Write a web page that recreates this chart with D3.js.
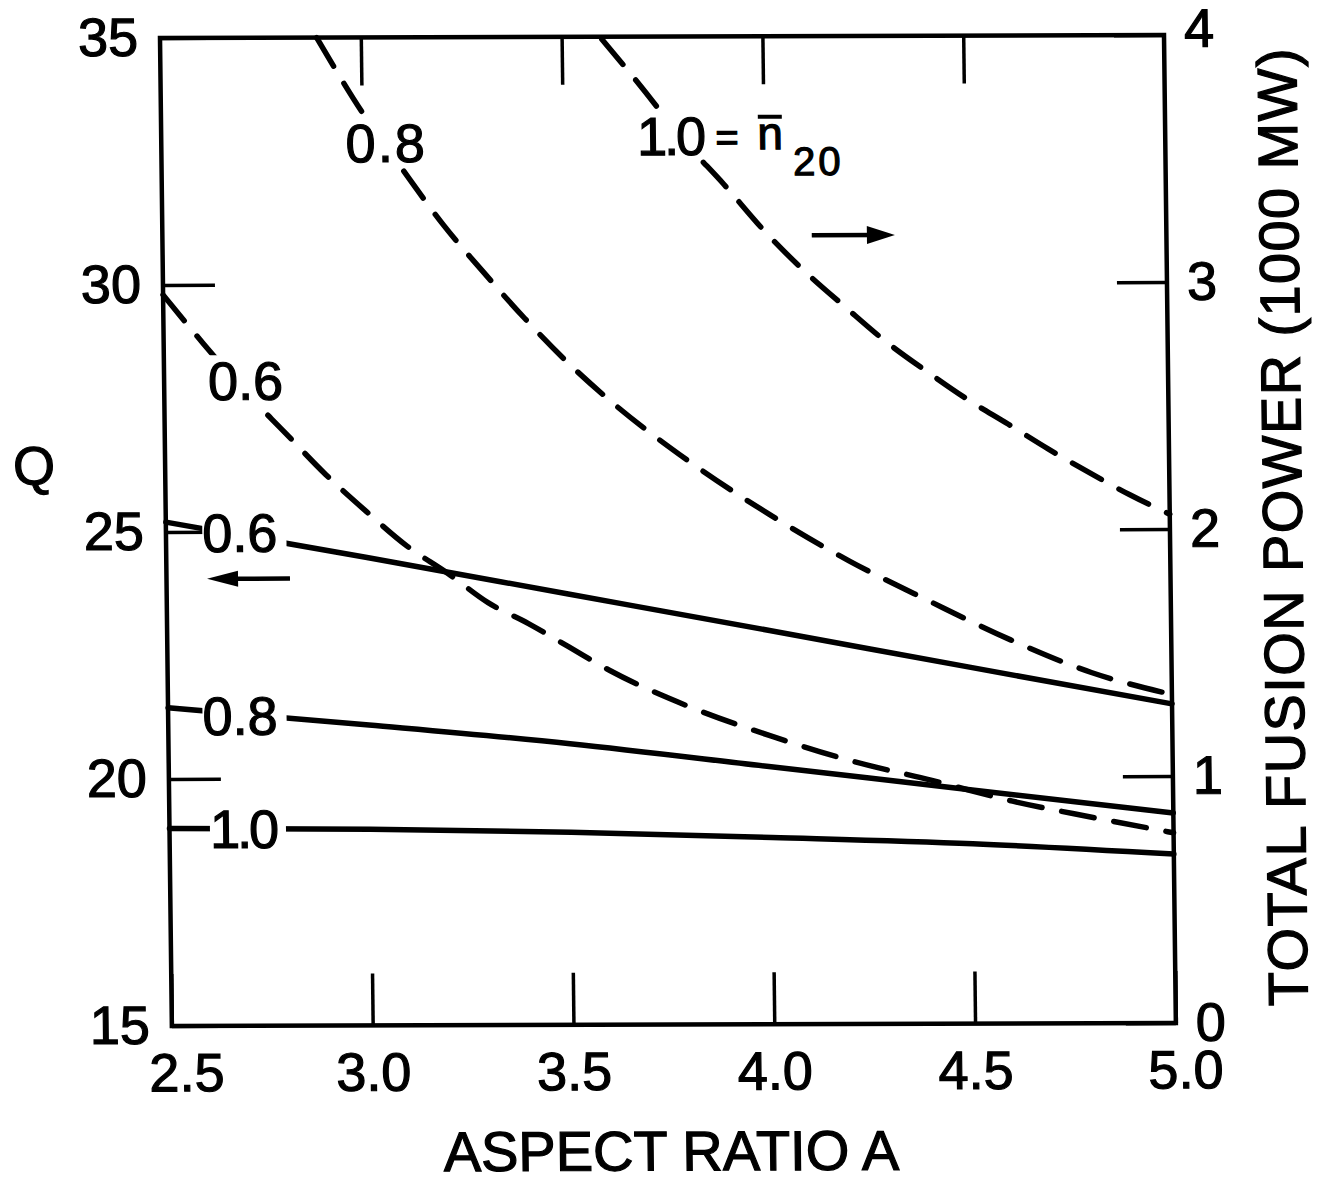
<!DOCTYPE html>
<html>
<head>
<meta charset="utf-8">
<script src="https://cdn.jsdelivr.net/npm/d3@7"></script>
<style>
  html, body { margin: 0; padding: 0; background: #fff; }
  svg { display: block; }
  text { font-family: "Liberation Sans", Arial, sans-serif; fill: #000; stroke: #000; stroke-width: 1.2px; }
</style>
</head>
<body>
<svg id="chart" width="1322" height="1182"></svg>
<script>
// ---- axis ticks ----
const aspectTicks = [2.5, 3.0, 3.5, 4.0, 4.5, 5.0];
const aspectInnerTicks = [3.0, 3.5, 4.0, 4.5];
const qTicks = [15, 20, 25, 30, 35];
const powerTicks = [0, 1, 2, 3, 4];

// ---- Q versus aspect ratio (solid curves, left axis) ----
const aspectQ = [2.5, 3.0, 3.5, 4.0, 4.5, 5.0];
const qDensity06 = [25.2, 24.47, 23.72, 22.97, 22.21, 21.46];
const qDensity08 = [21.44, 21.08, 20.69, 20.21, 19.73, 19.25];
const qDensity10 = [19.0, 18.97, 18.90, 18.78, 18.64, 18.42];

// ---- total fusion power, 1000 MW (dashed curves, right axis) ----
const aspectP06 = [2.5, 2.6, 2.7, 2.8, 2.9, 3.0, 3.1, 3.2, 3.3, 3.4, 3.5, 3.6, 3.8, 4.0, 4.2, 4.4, 4.6, 4.8, 5.0];
const powerP06  = [2.96, 2.76, 2.57, 2.40, 2.23, 2.08, 1.94, 1.83, 1.71, 1.625, 1.53, 1.435, 1.285, 1.167, 1.065, 0.985, 0.90, 0.833, 0.77];
const aspectP08 = [2.89, 3.0, 3.1, 3.2, 3.3, 3.4, 3.5, 3.6, 3.8, 4.0, 4.2, 4.4, 4.6, 4.8, 5.0];
const powerP08  = [4.0, 3.70, 3.465, 3.24, 3.045, 2.86, 2.69, 2.54, 2.285, 2.067, 1.875, 1.71, 1.553, 1.42, 1.33];
const aspectP10 = [3.6, 3.7, 3.8, 3.9, 4.0, 4.1, 4.2, 4.3, 4.4, 4.5, 4.6, 4.7, 4.8, 4.9, 5.0];
const powerP10  = [3.99, 3.79, 3.58, 3.40, 3.21, 3.045, 2.90, 2.76, 2.64, 2.527, 2.427, 2.325, 2.23, 2.14, 2.06];

// ---- layout ----
const W = 1004, H = 988;
const FONT = "Liberation Sans, Arial, sans-serif";
const svg = d3.select("#chart");
// the whole drawing is very slightly sheared, like a hand-inked plate
const g = svg.append("g")
  .attr("transform", "translate(160,38) matrix(1,-0.003,0.012,1,0,0)");

const x = d3.scaleLinear().domain([2.5, 5]).range([0, W]);
const yQ = d3.scaleLinear().domain([15, 35]).range([H, 0]);
const yP = d3.scaleLinear().domain([0, 4]).range([H, 0]);

function styleAxis(sel) {
  sel.attr("font-size", 54).attr("font-family", FONT);
  sel.select(".domain").remove();
  sel.selectAll(".tick line").attr("stroke", "#000").attr("stroke-width", 3.5);
  sel.selectAll(".tick text").attr("fill", "#000");
}

// bottom axis with labels
const axB = g.append("g").attr("transform", `translate(0,${H})`)
  .call(d3.axisBottom(x).tickValues(aspectTicks).tickSizeInner(-52).tickSizeOuter(0)
        .tickPadding(27).tickFormat(d3.format(".1f")));
styleAxis(axB);
axB.selectAll(".tick text").attr("dx", d => d === 2.5 ? 14 : d === 5.0 ? 9 : 0);

// top axis, ticks only
const axT = g.append("g")
  .call(d3.axisTop(x).tickValues(aspectInnerTicks).tickSizeInner(-48).tickSizeOuter(0).tickFormat(() => ""));
styleAxis(axT);

// left axis: Q
const axL = g.append("g")
  .call(d3.axisLeft(yQ).tickValues(qTicks).tickSizeInner(-52).tickSizeOuter(0)
        .tickPadding(22).tickFormat(d3.format("d")));
styleAxis(axL);

// right axis: total fusion power
const axR = g.append("g").attr("transform", `translate(${W},0)`)
  .call(d3.axisRight(yP).tickValues(powerTicks).tickSizeInner(-50).tickSizeOuter(0)
        .tickPadding(20).tickFormat(d3.format("d")));
styleAxis(axR);
axR.selectAll(".tick").filter(d => d === 4).select("text").attr("y", -6);

// frame
g.append("rect").attr("width", W).attr("height", H)
  .attr("fill", "none").attr("stroke", "#000").attr("stroke-width", 4.5);

// ---- curves ----
const lineQ = d3.line().x(d => x(d[0])).y(d => yQ(d[1])).curve(d3.curveMonotoneX);
const lineP = d3.line().x(d => x(d[0])).y(d => yP(d[1])).curve(d3.curveMonotoneX);
const curves = g.append("g").attr("fill", "none").attr("stroke", "#000")
  .attr("stroke-linecap", "round").attr("stroke-linejoin", "round");

[qDensity06, qDensity08, qDensity10].forEach(vals => {
  curves.append("path")
    .attr("d", lineQ(d3.zip(aspectQ, vals)))
    .attr("stroke-width", 5.5);
});
[[aspectP06, powerP06], [aspectP08, powerP08], [aspectP10, powerP10]].forEach(([a, p]) => {
  curves.append("path")
    .attr("d", lineP(d3.zip(a, p)))
    .attr("stroke-width", 5.5)
    .attr("stroke-dasharray", "33 20");
});

// ---- curve labels with white knock-outs ----
const labels = g.append("g");
function label(txt, px, py, size, opts = {}) {
  const t = labels.append("text")
    .attr("x", px).attr("y", py)
    .attr("text-anchor", opts.anchor || "middle")
    .attr("font-size", size)
    .attr("letter-spacing", opts.spacing || 0)
    .text(txt);
  const b = t.node().getBBox();
  const cap = size * 0.716;
  const pl = opts.padL ?? 3, pr = opts.padR ?? 3, pt = opts.padT ?? 3, pb = opts.padB ?? 3;
  labels.insert("rect", () => t.node())
    .attr("x", b.x - pl).attr("y", py - cap - pt)
    .attr("width", b.width + pl + pr).attr("height", cap + pt + pb)
    .attr("fill", "#fff");
  return t;
}

// power curves
label("0.8", x(3.06), yP(3.495), 54, { padL: 2, padR: 2, padT: 1, padB: 1, spacing: 2 });
label("0.6", x(2.703), yP(2.534), 54, { padL: 4, padR: 4, padT: 6, padB: 8 });
// Q curves
label("0.6", x(2.684), yQ(24.595), 54, { padL: 0, padR: 9, padT: 6, padB: 4 });
label("0.8", x(2.679), yQ(20.89), 54, { padL: 0, padR: 9, padT: 6, padB: 4 });
label("1.0", x(2.683), yQ(18.60), 54, { padL: 0, padR: 9, padT: 6, padB: 4, spacing: -3 });

// "1.0 = n̄20" key on the top dashed curve
const kx = x(3.767), ky = yP(3.520);
label("1.0", kx, ky, 54, { padL: 2, padR: 2, padT: 2, padB: 2, spacing: -3 });
label("=", kx + 57, ky - 4, 40, { padL: 0, padR: 0, padT: 0, padB: 0 });
label("n", kx + 100, ky - 5.5, 46, { padL: 0, padR: 0, padT: 0, padB: 0 });
labels.append("line")
  .attr("x1", kx + 88).attr("x2", kx + 112)
  .attr("y1", ky - 38).attr("y2", ky - 38)
  .attr("stroke", "#000").attr("stroke-width", 4);
label("20", kx + 148, ky + 20.5, 40, { padL: 0, padR: 0, padT: 0, padB: 0, spacing: 3 });

// ---- direction arrows (which axis each family refers to) ----
function arrow(x0, x1, yy, headLen, headHalf) {
  const dir = Math.sign(x1 - x0);
  labels.append("line")
    .attr("x1", x0).attr("x2", x1 - dir * headLen * 0.6)
    .attr("y1", yy).attr("y2", yy)
    .attr("stroke", "#000").attr("stroke-width", 4.5);
  labels.append("path")
    .attr("d", `M${x1},${yy} L${x1 - dir * headLen},${yy - headHalf} L${x1 - dir * headLen},${yy + headHalf} Z`)
    .attr("fill", "#000");
}
arrow(x(2.8075), x(2.601), yQ(24.05), 31, 8);
arrow(x(4.117), x(4.324), yP(3.194), 28, 9);

// ---- axis titles ----
g.append("text").attr("x", -131).attr("y", 446)
  .attr("text-anchor", "middle").attr("font-size", 54).text("Q");
g.append("text").attr("x", 498).attr("y", 1134)
  .attr("text-anchor", "middle").attr("font-size", 56).text("ASPECT RATIO A");
g.append("text")
  .attr("transform", "translate(1136,492) rotate(-90)")
  .attr("text-anchor", "middle").attr("font-size", 56).attr("letter-spacing", 1.4)
  .text("TOTAL FUSION POWER (1000 MW)");
</script>
</body>
</html>
